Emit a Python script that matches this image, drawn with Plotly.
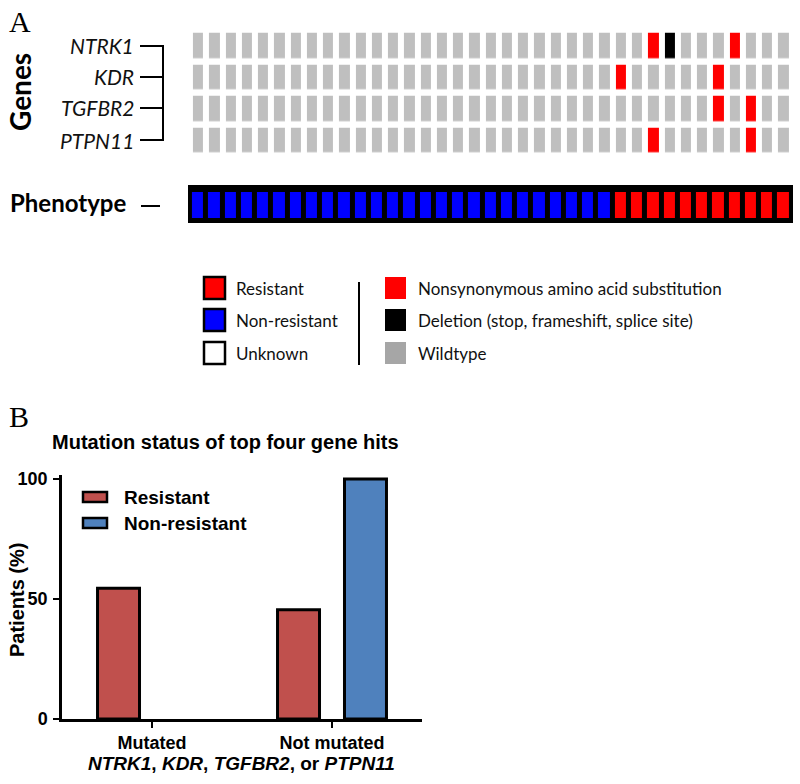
import plotly.graph_objects as go

# ---------------- data ----------------
genes = ["NTRK1", "KDR", "TGFBR2", "PTPN11"]
# mutation codes per patient: 0 = wildtype, 1 = nonsynonymous substitution, 2 = deletion
ntrk1  = [0,0,0,0,0,0,0,0,0,0,0,0,0,0,0,0,0,0,0,0,0,0,0,0,0,0,0,0,1,2,0,0,0,1,0,0,0]
kdr    = [0,0,0,0,0,0,0,0,0,0,0,0,0,0,0,0,0,0,0,0,0,0,0,0,0,0,1,0,0,0,0,0,1,0,0,0,0]
tgfbr2 = [0,0,0,0,0,0,0,0,0,0,0,0,0,0,0,0,0,0,0,0,0,0,0,0,0,0,0,0,0,0,0,0,1,0,1,0,0]
ptpn11 = [0,0,0,0,0,0,0,0,0,0,0,0,0,0,0,0,0,0,0,0,0,0,0,0,0,0,0,0,1,0,0,0,0,0,1,0,0]
# phenotype per patient: 0 = non-resistant, 1 = resistant
phenotype = [0,0,0,0,0,0,0,0,0,0,0,0,0,0,0,0,0,0,0,0,0,0,0,0,0,0,1,1,1,1,1,1,1,1,1,1,1]

phen_legend = ["Resistant", "Non-resistant", "Unknown"]
mut_legend = ["Nonsynonymous amino acid substitution",
              "Deletion (stop, frameshift, splice site)", "Wildtype"]

categories = ["Mutated", "Not mutated"]
resistant_pct = [54.5, 45.5]
nonresistant_pct = [0, 100]

# ---------------- helpers ----------------
W, H = 800, 784
def PX(x): return x / W
def PY(y): return 1 - y / H

RED = "#ff0000"; BLUE = "#0000ff"; GREY = "#bfbfbf"
BAR_RED = "#c0504d"; BAR_BLUE = "#4f81bd"
FA = "Lato"
FB = "Liberation Sans"

fig = go.Figure()

n = len(phenotype)
# gene oncoprint
fig.add_trace(go.Heatmap(
    z=[ntrk1, kdr, tgfbr2, ptpn11], x=list(range(n)), y=list(range(len(genes))),
    colorscale=[[0, GREY], [0.5, RED], [1, "black"]], zmin=0, zmax=2,
    showscale=False, xgap=6, ygap=6.5, hoverinfo="skip",
    xaxis="x", yaxis="y"))
# phenotype row
fig.add_trace(go.Heatmap(
    z=[phenotype], x=list(range(n)), y=[0],
    colorscale=[[0, BLUE], [1, RED]], zmin=0, zmax=1,
    showscale=False, xgap=5, ygap=0, hoverinfo="skip",
    xaxis="x2", yaxis="y2"))

# bar chart
fig.add_trace(go.Bar(x=categories, y=resistant_pct, name="Resistant",
                     marker=dict(color=BAR_RED, line=dict(color="black", width=3)),
                     xaxis="x3", yaxis="y3", showlegend=False))
fig.add_trace(go.Bar(x=categories, y=nonresistant_pct, name="Non-resistant",
                     marker=dict(color=BAR_BLUE,
                                 line=dict(color="black", width=[3 if v > 0 else 0 for v in nonresistant_pct])),
                     xaxis="x3", yaxis="y3", showlegend=False))

grid_dom_x = [PX(189.9), PX(791.5)]
ann = []
shapes = []

# phenotype black box
shapes.append(dict(type="rect", xref="paper", yref="paper", x0=PX(188), x1=PX(793),
                   y0=PY(223), y1=PY(185), fillcolor="black", line=dict(width=0), layer="below"))

# gene labels and bracket
row_y = [46, 77, 108, 140]
for g, yy in zip(genes, row_y):
    ann.append(dict(text=g, x=PX(136), y=PY(yy), xanchor="right", yanchor="middle",
                    font=dict(family=FA, size=21, style="italic", color="#111")))
    shapes.append(dict(type="line", xref="paper", yref="paper", x0=PX(140), x1=PX(163),
                       y0=PY(yy), y1=PY(yy), line=dict(color="black", width=2)))
shapes.append(dict(type="line", xref="paper", yref="paper", x0=PX(163), x1=PX(163),
                   y0=PY(row_y[0] - 1), y1=PY(row_y[-1] + 1), line=dict(color="black", width=2)))

ann.append(dict(text="<b>Genes</b>", x=PX(20), y=PY(92), textangle=-90, xanchor="center",
                yanchor="middle", font=dict(family=FA, size=28, color="black")))
ann.append(dict(text="<b>Phenotype</b>", x=PX(8), y=PY(203), xanchor="left", yanchor="middle",
                font=dict(family=FA, size=24, color="black")))
shapes.append(dict(type="line", xref="paper", yref="paper", x0=PX(141), x1=PX(160),
                   y0=PY(206), y1=PY(206), line=dict(color="black", width=2)))

ann.append(dict(text="A", x=PX(7), y=PY(21), xanchor="left", yanchor="middle",
                font=dict(family="Liberation Serif", size=30, color="black")))
ann.append(dict(text="B", x=PX(7), y=PY(416), xanchor="left", yanchor="middle",
                font=dict(family="Liberation Serif", size=30, color="black")))

# panel A legend
leg_y = [288, 320, 353]
left_fill = [RED, BLUE, "white"]
for lab, yy, col in zip(phen_legend, leg_y, left_fill):
    shapes.append(dict(type="rect", xref="paper", yref="paper", x0=PX(204), x1=PX(225),
                       y0=PY(yy + 11), y1=PY(yy - 11), fillcolor=col,
                       line=dict(color="black", width=2.5)))
    ann.append(dict(text=lab, x=PX(234), y=PY(yy), xanchor="left", yanchor="middle",
                    font=dict(family=FA, size=17, color="#111")))
right_fill = [RED, "black", "#a6a6a6"]
for lab, yy, col in zip(mut_legend, leg_y, right_fill):
    shapes.append(dict(type="rect", xref="paper", yref="paper", x0=PX(385), x1=PX(406),
                       y0=PY(yy + 11), y1=PY(yy - 11), fillcolor=col, line=dict(width=0)))
    ann.append(dict(text=lab, x=PX(416), y=PY(yy), xanchor="left", yanchor="middle",
                    font=dict(family=FA, size=17, color="#111")))
shapes.append(dict(type="line", xref="paper", yref="paper", x0=PX(359), x1=PX(359),
                   y0=PY(282), y1=PY(365), line=dict(color="black", width=2)))

# panel B texts
ann.append(dict(text="<b>Mutation status of top four gene hits</b>", x=PX(226), y=PY(442),
                xanchor="center", yanchor="middle", font=dict(family=FB, size=20, color="black")))
ann.append(dict(text="<b>Patients (%)</b>", x=PX(17), y=PY(600), textangle=-90,
                xanchor="center", yanchor="middle", font=dict(family=FB, size=20, color="black")))
ann.append(dict(text="<b><i>NTRK1</i>, <i>KDR</i>, <i>TGFBR2</i>, or <i>PTPN11</i></b>",
                x=PX(241), y=PY(763), xanchor="center", yanchor="middle",
                font=dict(family=FB, size=19, color="black")))
bar_leg = [("Resistant", BAR_RED, 497), ("Non-resistant", BAR_BLUE, 523)]
for lab, col, yy in bar_leg:
    shapes.append(dict(type="rect", xref="paper", yref="paper", x0=PX(83), x1=PX(107),
                       y0=PY(yy + 5), y1=PY(yy - 5), fillcolor=col,
                       line=dict(color="black", width=2.5)))
    ann.append(dict(text="<b>" + lab + "</b>", x=PX(122), y=PY(yy), xanchor="left",
                    yanchor="middle", font=dict(family=FB, size=19, color="black")))

for a in ann:
    a.setdefault("xref", "paper"); a.setdefault("yref", "paper"); a.setdefault("showarrow", False)

ytop = 479 - 240 * 0.015
fig.update_layout(
    template="none",
    width=W, height=H, autosize=False, margin=dict(l=0, r=0, t=0, b=0, pad=0),
    paper_bgcolor="white", plot_bgcolor="rgba(0,0,0,0)",
    xaxis=dict(domain=grid_dom_x, range=[-0.5, n - 0.5], visible=False, automargin=False),
    yaxis=dict(domain=[PY(155.75), PY(29.75)], range=[3.5, -0.5], visible=False, automargin=False),
    xaxis2=dict(domain=grid_dom_x, range=[-0.5, n - 0.5], visible=False, anchor="y2", automargin=False),
    yaxis2=dict(domain=[PY(218), PY(192)], range=[-0.5, 0.5], visible=False, anchor="x2", automargin=False),
    xaxis3=dict(domain=[PX(62), PX(422)], range=[-0.5, 1.5], type="category", anchor="y3",
                automargin=False,
                showline=True, linecolor="black", linewidth=2.5, ticks="outside", ticklen=6,
                tickwidth=2, tickcolor="black", showgrid=False, zeroline=False,
                tickfont=dict(family=FB, size=18, color="black", weight="bold")),
    yaxis3=dict(domain=[PY(719), PY(ytop)], range=[0, 101.5], anchor="x3", automargin=False,
                showline=True, linecolor="black", linewidth=2.5, ticks="outside", ticklen=6,
                tickwidth=2, tickcolor="black", showgrid=False, zeroline=False,
                tickvals=[0, 50, 100], ticklabelstandoff=2,
                tickfont=dict(family=FB, size=18, color="black", weight="bold")),
    barmode="group", bargap=0.256, bargroupgap=0.373,
    shapes=shapes, annotations=ann, showlegend=False,
)

fig.write_html("out.html", config={"displayModeBar": False},
               post_script="document.body.style.margin='0px';")
